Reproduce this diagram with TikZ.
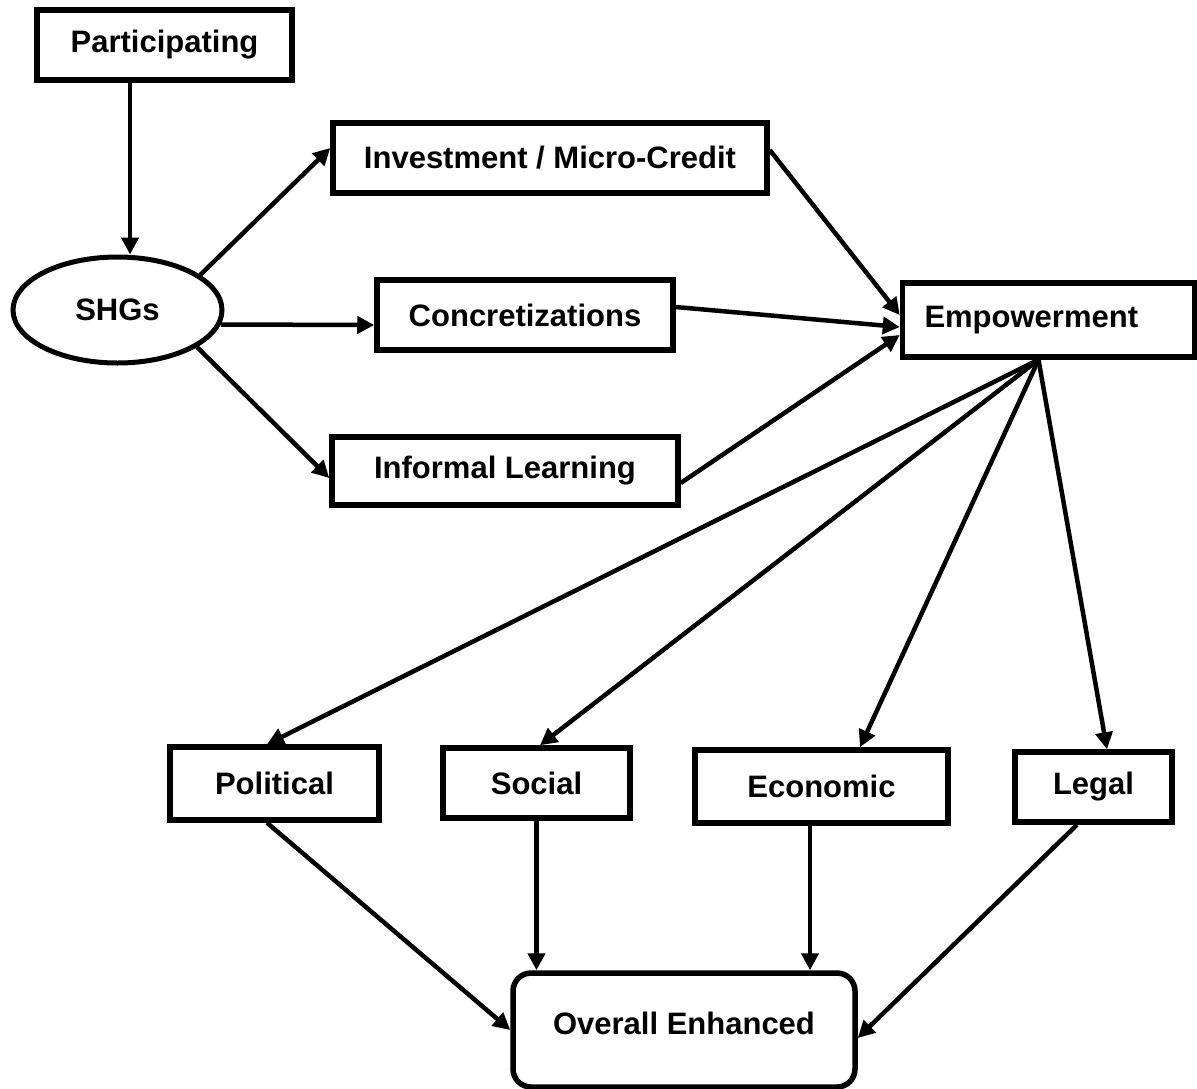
\documentclass[tikz,border=0pt]{standalone}
\usepackage{fontspec}
\setmainfont{Liberation Sans}
\usetikzlibrary{arrows.meta,shapes.geometric}
\begin{document}
\begin{tikzpicture}[x=1pt,y=-1pt,
  every node/.style={font=\fontsize{31}{36}\selectfont\bfseries},
  box/.style={draw,line width=5.5pt,rectangle,inner sep=0pt},
  oval/.style={draw,line width=5pt,ellipse,inner sep=0pt},
  rbox/.style={draw,line width=5.5pt,rectangle,rounded corners=18pt,inner sep=0pt},
  arr/.style={line width=4.5pt,-{Triangle[length=17pt,width=17pt]}}]
  \fill[white] (0,0) rectangle (1197,1088);
  \useasboundingbox (0,0) rectangle (1197,1088);

  % top row and the SHG ellipse
  \node[box,minimum width=255pt,minimum height=70pt] (part) at (164.5,45) {Participating};
  \node[oval,minimum width=209pt,minimum height=106pt] (shg) at (117.5,310) {SHGs};

  % three channels
  \node[box,minimum width=434pt,minimum height=70pt] (inv) at (550,158) {Investment / Micro-Credit};
  \node[box,minimum width=296pt,minimum height=70pt] (con) at (525,315) {Concretizations};
  \node[box,minimum width=346pt,minimum height=68pt] (inf) at (505,471) {Informal Learning};

  % empowerment hub
  \node[box,minimum width=292pt,minimum height=74pt,inner xsep=22pt] (emp) at (1048.5,320)
    {\makebox[248pt][l]{Empowerment}};

  % four dimensions
  \node[box,minimum width=209pt,minimum height=73pt] (pol) at (274.5,783.5) {Political};
  \node[box,minimum width=187pt,minimum height=70pt] (soc) at (536.5,783) {Social};
  \node[box,minimum width=253pt,minimum height=73pt] (eco) at (821.5,786.5) {Economic};
  \node[box,minimum width=157pt,minimum height=70pt] (leg) at (1093.5,787) {Legal};

  % outcome
  \node[rbox,minimum width=342pt,text height=61pt,text depth=53pt] (ove) at (684,1030) {Overall Enhanced};

  % connectors
  \draw[arr] ([xshift=-34.5pt]part.south) -- ([xshift=12.5pt]shg.north);
  \draw[arr] (shg.23) -- ([yshift=10pt]inv.west);
  \draw[arr] (shg.-8) -- ([yshift=-10pt]con.west);
  \draw[arr] (shg.-25) -- ([yshift=-7pt]inf.west);

  \draw[arr] ([yshift=8pt]inv.east) -- ([yshift=5pt]emp.west);
  \draw[arr] ([yshift=8pt]con.east) -- ([yshift=-7pt]emp.west);
  \draw[arr] ([yshift=-12pt]inf.east) -- ([yshift=-15pt]emp.west);

  \coordinate (fan) at ([xshift=-10pt]emp.south);
  \draw[arr] (fan) -- ([xshift=-7.5pt]pol.north);
  \draw[arr] (fan) -- ([xshift=3.5pt]soc.north);
  \draw[arr] (fan) -- ([xshift=38.5pt]eco.north);
  \draw[arr] (fan) -- ([xshift=13.5pt]leg.north);

  \coordinate (polout) at ([xshift=-7.5pt]pol.south);
  \coordinate (ecoout) at ([xshift=-11.5pt]eco.south);
  \coordinate (legout) at ([xshift=-16.5pt]leg.south);
  \draw[arr] (polout) -- (ove.west);
  \draw[arr] (soc.south) -- (soc.south |- ove.north);
  \draw[arr] (ecoout) -- (ecoout |- ove.north);
  \draw[arr] (legout) -- ([yshift=-8pt]ove.east);
\end{tikzpicture}
\end{document}
